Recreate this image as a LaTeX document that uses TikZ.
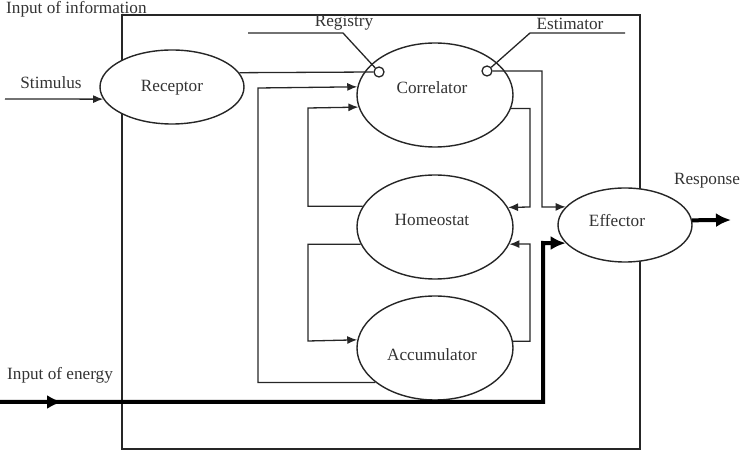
\documentclass[tikz,border=0pt]{standalone}
\usepackage{fontspec}
\setmainfont{Liberation Serif}
\usetikzlibrary{shapes.geometric,arrows.meta}
\begin{document}
\begin{tikzpicture}[x=1pt,y=-1pt,
  ln/.style={draw=black!85, line width=1.3pt},
  ell/.style={ellipse, draw=black!85, line width=1.4pt, fill=white, inner sep=0pt},
  lbl/.style={font=\fontsize{17.2}{20}\selectfont, text=black!80, inner sep=0pt},
  arr/.style={ln, -{Latex[length=10pt,width=8pt]}},
  thk/.style={draw=black, line width=4pt},
  thkarr/.style={thk, -{Latex[length=15pt,width=14pt]}},
  ring/.style={circle, draw=black!85, line width=1.3pt, fill=white, minimum size=10pt, inner sep=0pt}]
\useasboundingbox (0,0) rectangle (745,462);
% outer box
\draw[ln] (122,15) rectangle (640,449);
% ellipses
\node[ell, minimum width=144pt, minimum height=74pt] (rec) at (172,87) {};
\node[ell, minimum width=156pt, minimum height=104pt] (corr) at (435,95) {};
\node[ell, minimum width=156pt, minimum height=104pt] (homeo) at (435,227) {};
\node[ell, minimum width=156pt, minimum height=104pt] (acc) at (435,348) {};
\node[ell, minimum width=134pt, minimum height=74pt] (eff) at (625,225) {};
% small circles
\node[ring] (reg) at (379,72) {};
\node[ring] (est) at (487,71) {};
% texts
\node[lbl, anchor=west] (tinfo) at (6,9.5) {Input of information};
\node[lbl] (tstim) at (51,83) {Stimulus};
\node[lbl] (trec) at (172,88) {Receptor};
\node[lbl] (treg) at (344,23) {Registry};
\node[lbl] (test) at (570,24) {Estimator};
\node[lbl] (tcorr) at (432,88) {Correlator};
\node[lbl] (thomeo) at (432,220) {Homeostat};
\node[lbl] (tacc) at (432,355) {Accumulator};
\node[lbl] (teff) at (617,221) {Effector};
\node[lbl] (tresp) at (707,181) {Response};
\node[lbl, anchor=west] (tenergy) at (7,375) {Input of energy};
% coordinates
\coordinate (stimS) at (5,99);
\coordinate (regA) at (248,33);
\coordinate (regB) at (343,33);
\coordinate (estA) at (625,33);
\coordinate (estB) at (530,33);
\coordinate (enS) at (0,402);
\coordinate (enA) at (62,402);
\coordinate (respE) at (731,220);
% connectors
\draw[arr] (stimS) -- (rec.190);
\draw[ln] (rec.12.8) -- (reg.west);
\draw[ln] (regA) -- (regB) -- (reg.133);
\draw[ln] (estA) -- (estB) -- (est.41.5);
\draw[arr] (est.east) -| (542,207) -- (eff.163);
\draw[arr] (corr.350.2) -| (530,207) -- (homeo.15.5);
\draw[arr] (acc.5.2) -| (530,244) -- (homeo.-13);
\draw[arr] (acc.210) -| (258,88) -- (corr.174.8);
\draw[arr] (homeo.164.5) -| (308,108) -- (corr.189.8);
\draw[arr] (homeo.193) -| (308,341) -- (acc.174.8);
\draw[thkarr] (enS) -- (543,402) -- (543,243) -- (eff.197);
\draw[thkarr] (enS) -- (enA);
\draw[thkarr] (eff.4.3) -- (respE);
\end{tikzpicture}
\end{document}
